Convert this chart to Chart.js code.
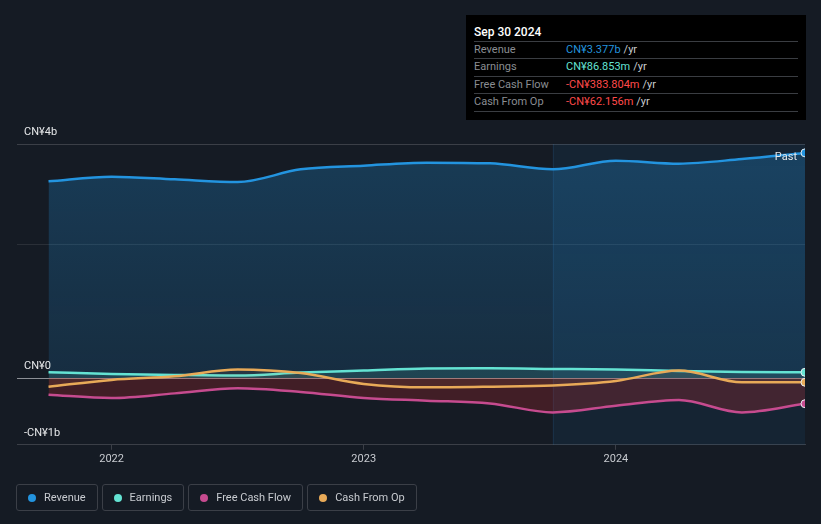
<!DOCTYPE html>
<html>
<head>
<meta charset="utf-8">
<script src="https://cdn.jsdelivr.net/npm/chart.js@4.4.1/dist/chart.umd.min.js"></script>
<style>
  body { margin: 0; background: #151b24; font-family: Roboto, "Noto Sans", sans-serif; }
  #wrap { position: relative; width: 821px; height: 524px; }
  #tip { position: absolute; left: 466px; top: 15px; width: 340px; height: 105px; background: #000; box-sizing: border-box; padding: 8px 8px 0 8px; font-size: 11px; }
  #tip .hd { color: #fff; font-size: 12px; font-weight: 500; height: 18px; line-height: 18px; border-bottom: 1px solid #3a3d42; }
  #tip .row { height: 16.4px; line-height: 16.4px; border-bottom: 1px solid #3a3d42; color: #8a8d92; display: flex; }
  #tip .row span.k { width: 92px; }
  #tip .row span.u { color: #c9ccd0; margin-left: 3px; }
  #legend { position: absolute; left: 16px; top: 484px; display: flex; gap: 4px; }
  #legend .it { border: 1px solid #3b3f47; border-radius: 3px; height: 27px; box-sizing: border-box; padding: 0 11px 0 11px; display: flex; align-items: center; color: #c8cbd0; font-size: 11px; }
  #legend .dot { width: 8px; height: 8px; border-radius: 50%; margin-right: 8px; }
</style>
</head>
<body>
<div id="wrap">
  <canvas id="chart" width="821" height="524"></canvas>
  <div id="tip"></div>
  <div id="legend"></div>
</div>
<script>
// quarter ends, Sep 2021 .. Sep 2024 (as decimal years)
const periods = [2021.75, 2022.0, 2022.25, 2022.5, 2022.75, 2023.0, 2023.25, 2023.5, 2023.75, 2024.0, 2024.25, 2024.5, 2024.75];
// values in CN¥ billions (trailing twelve months)
const revenue  = [2.95, 3.02, 2.98, 2.94, 3.13, 3.185, 3.23, 3.22, 3.13, 3.26, 3.215, 3.285, 3.377];
const earnings = [0.087, 0.063, 0.048, 0.038, 0.083, 0.113, 0.143, 0.147, 0.138, 0.128, 0.108, 0.093, 0.087];
const freeCashFlow = [-0.248, -0.298, -0.229, -0.153, -0.208, -0.298, -0.338, -0.379, -0.514, -0.414, -0.328, -0.514, -0.384];
const cashFromOp = [-0.128, -0.027, 0.027, 0.128, 0.075, -0.087, -0.138, -0.128, -0.11, -0.042, 0.113, -0.063, -0.062];

const seriesNames = ['Revenue', 'Earnings', 'Free Cash Flow', 'Cash From Op'];
const seriesColors = ['#2394df', '#64e3d3', '#c64b8f', '#e8aa58'];
const tipValues = ['CN¥3.377b', 'CN¥86.853m', '-CN¥383.804m', '-CN¥62.156m'];
const tipColors = ['#2394df', '#64e3d3', '#ff4a4a', '#ff4a4a'];

const xTickValues = [2022, 2023, 2024];
const yTickValues = [3.51, 0, -1];
const yTickLabels = ['CN¥4b', 'CN¥0', '-CN¥1b'];
const pastStart = 2023.75;

// tooltip box
var tip = document.getElementById('tip');
var html = '<div class="hd">Sep 30 2024</div>';
seriesNames.forEach(function (n, i) {
  html += '<div class="row"><span class="k">' + n + '</span><span style="color:' + tipColors[i] + '">' + tipValues[i] + '</span><span class="u">/yr</span></div>';
});
tip.innerHTML = html;

// legend
var legend = document.getElementById('legend');
seriesNames.forEach(function (n, i) {
  legend.innerHTML += '<div class="it"><span class="dot" style="background:' + seriesColors[i] + '"></span>' + n + '</div>';
});

function pts(arr) {
  return arr.map(function (v, i) { return { x: periods[i], y: v }; });
}
function endRadius() {
  return periods.map(function (p, i) { return i === periods.length - 1 ? 4 : 0; });
}

var ctx = document.getElementById('chart').getContext('2d');

function revenueFill(context) {
  var area = context.chart.chartArea;
  if (!area) return 'rgba(35,148,223,0.2)';
  var g = context.chart.ctx.createLinearGradient(0, area.top, 0, area.bottom);
  g.addColorStop(0, 'rgba(35,148,223,0.27)');
  g.addColorStop(1, 'rgba(35,148,223,0.12)');
  return g;
}

var overlay = {
  id: 'overlay',
  beforeDatasetsDraw: function (chart) {
    var c = chart.ctx, a = chart.chartArea, x = chart.scales.x;
    var px = x.getPixelForValue(pastStart);
    c.save();
    c.fillStyle = 'rgba(30,120,190,0.10)';
    c.fillRect(px, a.top, a.right - px, a.bottom - a.top);
    c.fillStyle = 'rgba(60,140,210,0.15)';
    c.fillRect(px, a.top, 1, a.bottom - a.top);
    c.restore();
  },
  afterDatasetsDraw: function (chart) {
    var c = chart.ctx, a = chart.chartArea, y = chart.scales.y;
    c.save();
    c.font = '11px Roboto, sans-serif';
    c.fillStyle = '#e6e8ea';
    c.textBaseline = 'middle';
    yTickValues.forEach(function (v, i) {
      c.fillText(yTickLabels[i], 24, y.getPixelForValue(v) - 12);
    });
    c.textAlign = 'right';
    c.fillText('Past', a.right - 8, y.getPixelForValue(revenue[revenue.length - 1]) + 4);
    c.restore();
  }
};

new Chart(ctx, {
  type: 'line',
  data: {
    datasets: [
      { label: seriesNames[0], data: pts(revenue), borderColor: seriesColors[0], backgroundColor: revenueFill, fill: 'origin', order: 4 },
      { label: seriesNames[1], data: pts(earnings), borderColor: seriesColors[1], backgroundColor: 'rgba(100,227,211,0.12)', fill: 'origin', order: 3 },
      { label: seriesNames[2], data: pts(freeCashFlow), borderColor: seriesColors[2], backgroundColor: 'rgba(210,40,45,0.24)', fill: 'origin', order: 2 },
      { label: seriesNames[3], data: pts(cashFromOp), borderColor: seriesColors[3], backgroundColor: 'rgba(232,170,88,0.08)', fill: 'origin', order: 1 }
    ].map(function (d, i) {
      d.borderWidth = 2.5;
      d.cubicInterpolationMode = 'monotone';
      d.pointRadius = endRadius();
      d.pointBackgroundColor = seriesColors[i];
      d.pointBorderColor = '#e8eef2';
      d.pointBorderWidth = 1;
      return d;
    })
  },
  options: {
    responsive: false,
    animation: false,
    events: [],
    layout: { padding: { left: 17, right: 16, top: 144, bottom: 55 } },
    plugins: { legend: { display: false }, tooltip: { enabled: false } },
    scales: {
      x: {
        type: 'linear',
        min: 2021.625,
        max: 2024.75,
        afterBuildTicks: function (s) { s.ticks = xTickValues.map(function (v) { return { value: v }; }); },
        ticks: { color: '#c8cbd0', font: { family: 'Roboto', size: 11 }, padding: 3, maxRotation: 0, callback: function (v) { return String(v); } },
        grid: { drawOnChartArea: false, color: '#3b3f47', tickLength: 5 },
        border: { color: '#3b3f47', width: 1 }
      },
      y: {
        min: -1,
        max: 3.51,
        afterBuildTicks: function (s) { s.ticks = [-1, 0, 2, 3.51].map(function (v) { return { value: v }; }); },
        ticks: { display: false },
        grid: {
          drawTicks: false,
          color: function (c) {
            var v = c.tick.value;
            if (v === 0) return '#8d9096';
            if (v === 2) return 'rgba(255,255,255,0.09)';
            return '#3b3f47';
          }
        },
        border: { display: false }
      }
    }
  },
  plugins: [overlay]
});
</script>
</body>
</html>
